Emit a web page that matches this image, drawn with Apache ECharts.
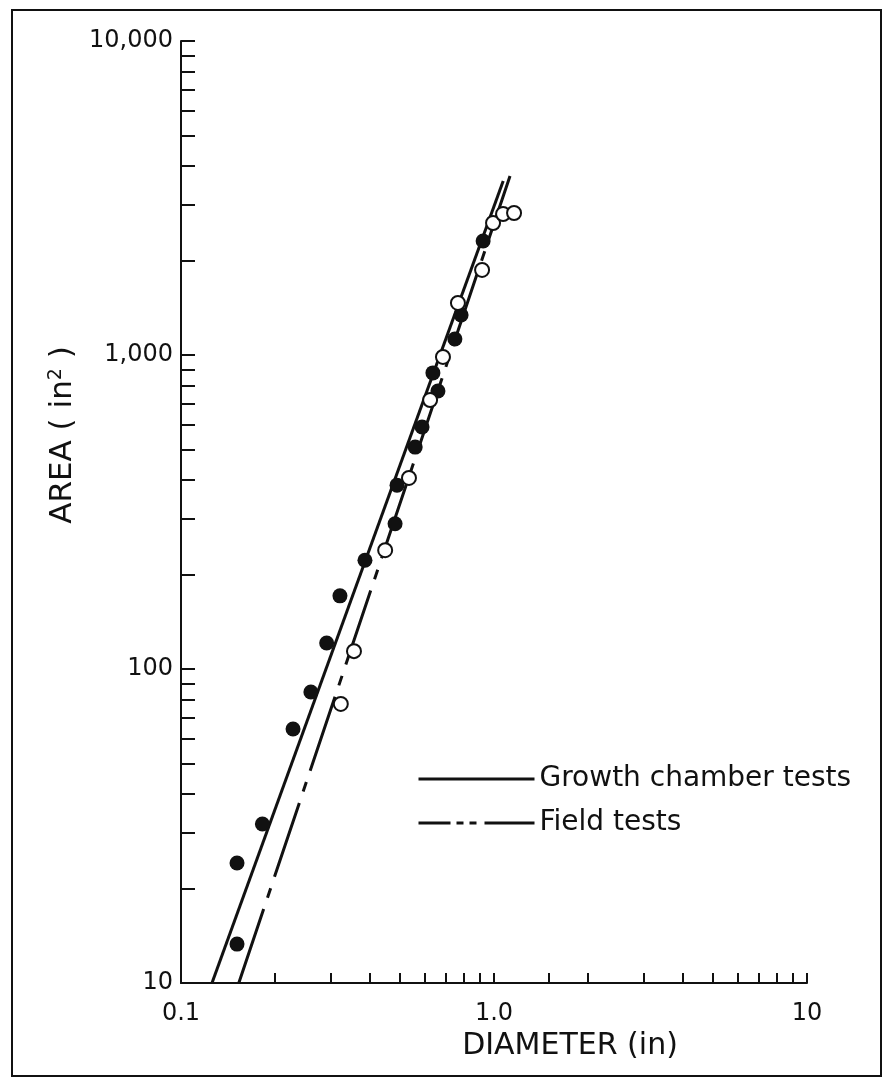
<!DOCTYPE html>
<html>
<head>
<meta charset="utf-8">
<style>
  html, body { margin: 0; padding: 0; background: #fff; }
  #chart { width: 884px; height: 1078px; }
</style>
<script src="https://cdn.jsdelivr.net/npm/echarts@6/dist/echarts.min.js"></script>
</head>
<body>
<div id="chart"></div>
<script>
// growth chamber tests (filled dots)
var growthDiameter = [0.151, 0.151, 0.182, 0.228, 0.260, 0.292, 0.322, 0.387, 0.483, 0.490, 0.560, 0.589, 0.662, 0.638, 0.750, 0.785, 0.923];
var growthArea     = [13.3, 24.1, 32.1, 64.4, 84.5, 121, 171, 222, 290, 385, 509, 590, 768, 877, 1125, 1341, 2307];

// field tests (open circles)
var fieldDiameter = [0.324, 0.357, 0.449, 0.535, 0.625, 0.687, 0.767, 0.916, 0.993, 1.069, 1.159];
var fieldArea     = [77.4, 114, 239, 406, 719, 986, 1465, 1866, 2632, 2812, 2833];

// fitted lines (end points)
var growthFitDiameter = [0.1256, 1.07];
var growthFitArea     = [10, 3580];
var fieldFitDiameter  = [0.153, 1.125];
var fieldFitArea      = [10, 3715];

// ticks and labels
var xTickValues = [0.1, 0.2, 0.3, 0.4, 0.5, 0.6, 0.7, 0.8, 0.9, 1, 1.5, 2, 3, 4, 5, 6, 7, 8, 9, 10];
var yTickValues = [10, 20, 30, 40, 50, 60, 70, 80, 90, 100, 200, 300, 400, 500, 600, 700, 800, 900,
                   1000, 2000, 3000, 4000, 5000, 6000, 7000, 8000, 9000, 10000];
var xLabelValues = [0.1, 1, 10];
var xLabelTexts  = ['0.1', '1.0', '10'];
var yLabelValues = [10, 100, 1000, 10000];
var yLabelTexts  = ['10', '100', '1,000', '10,000'];

var FONT = '"DejaVu Sans", sans-serif';
var INK = '#111';

function zip(xs, ys) {
    var out = [];
    for (var i = 0; i < xs.length; i++) out.push([xs[i], ys[i]]);
    return out;
}
function labelFor(values, texts) {
    return function (v) {
        for (var i = 0; i < values.length; i++) {
            if (Math.abs(v - values[i]) < values[i] * 1e-6) return texts[i];
        }
        return '';
    };
}

var myChart = echarts.init(document.getElementById('chart'));

var option = {
    backgroundColor: '#fff',
    animation: false,
    textStyle: { fontFamily: FONT, color: INK },
    grid: { left: 181, top: 41, right: 77, bottom: 95, containLabel: false },
    xAxis: {
        type: 'log',
        logBase: 10,
        min: 0.1,
        max: 10,
        name: 'DIAMETER (in)',
        nameLocation: 'middle',
        nameGap: 47,
        nameTextStyle: { fontSize: 30, color: INK, fontFamily: FONT, padding: [0, 0, 0, 152] },
        axisLine: { lineStyle: { color: INK, width: 2 } },
        axisTick: { inside: true, length: 10, lineStyle: { color: INK, width: 2 }, customValues: xTickValues },
        axisLabel: { fontSize: 24, color: INK, margin: 19, formatter: labelFor(xLabelValues, xLabelTexts) },
        splitLine: { show: false }
    },
    yAxis: {
        type: 'log',
        logBase: 10,
        min: 10,
        max: 10000,
        name: 'AREA ( in{sup|2} )',
        nameLocation: 'middle',
        nameRotate: 90,
        nameGap: 100,
        nameTextStyle: {
            fontSize: 31, color: INK, fontFamily: FONT, padding: [0, 0, 0, 154],
            rich: { sup: { fontSize: 19, color: INK, fontFamily: FONT, verticalAlign: 'top', padding: [0, 0, 14, 0] } }
        },
        axisLine: { lineStyle: { color: INK, width: 2 } },
        axisTick: { inside: true, length: 14, lineStyle: { color: INK, width: 2 }, customValues: yTickValues },
        axisLabel: { fontSize: 24, color: INK, margin: 8, formatter: labelFor(yLabelValues, yLabelTexts) },
        splitLine: { show: false }
    },
    legend: {
        data: [
            { name: 'Growth chamber tests', lineStyle: { width: 3, type: 'solid' } },
            { name: 'Field tests', lineStyle: { width: 3, type: [32, 6, 7, 6, 7, 8, 60] } }
        ],
        orient: 'vertical',
        left: 412,
        top: 760,
        itemWidth: 116,
        itemHeight: 16,
        itemGap: 16,
        selectedMode: false,
        itemStyle: { opacity: 0 },
        textStyle: { fontSize: 28, color: INK, fontFamily: FONT }
    },
    graphic: [{
        type: 'rect',
        shape: { x: 12, y: 10, width: 869, height: 1066 },
        style: { fill: 'none', stroke: INK, lineWidth: 2 },
        silent: true
    }],
    series: [
        {
            name: 'Growth chamber tests',
            type: 'line',
            symbol: 'none',
            data: zip(growthFitDiameter, growthFitArea),
            lineStyle: { color: INK, width: 3 },
            itemStyle: { color: INK },
            z: 2
        },
        {
            name: 'Field tests',
            type: 'line',
            symbol: 'none',
            data: zip(fieldFitDiameter, fieldFitArea),
            lineStyle: { color: INK, width: 3, type: [78, 12, 10, 12] },
            itemStyle: { color: INK },
            z: 2
        },
        {
            name: 'growth points',
            type: 'scatter',
            symbol: 'circle',
            symbolSize: 15,
            data: zip(growthDiameter, growthArea),
            itemStyle: { color: INK, opacity: 1 },
            z: 3
        },
        {
            name: 'field points',
            type: 'scatter',
            symbol: 'circle',
            symbolSize: 14,
            data: zip(fieldDiameter, fieldArea),
            itemStyle: { color: '#fff', borderColor: INK, borderWidth: 2, opacity: 1 },
            z: 4
        }
    ]
};

myChart.setOption(option);
window.addEventListener('resize', function () {
    myChart.resize();
});
</script>
</body>
</html>
